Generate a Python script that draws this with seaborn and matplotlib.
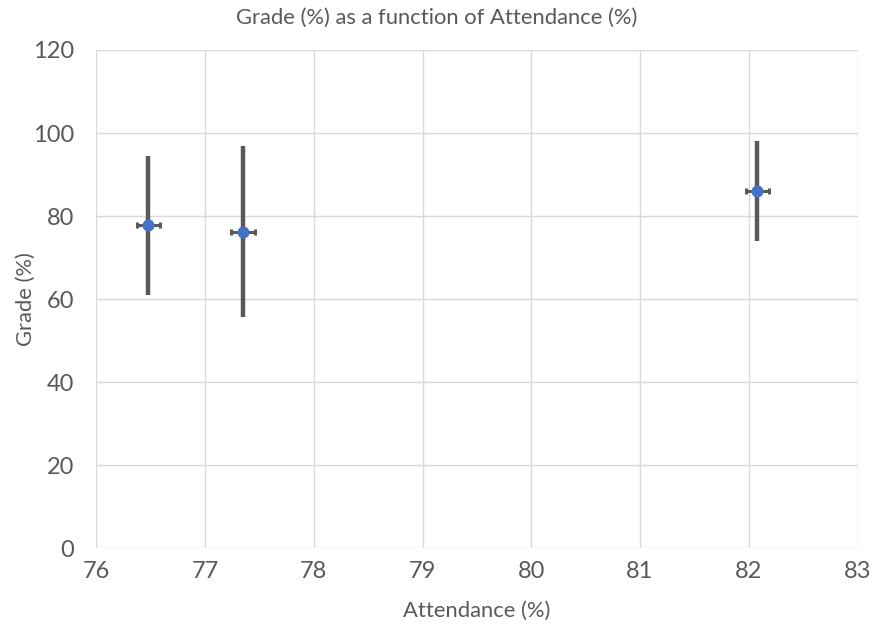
import numpy as np
import pandas as pd
import seaborn as sns
import matplotlib.pyplot as plt

# values
attendance = [76.48, 77.35, 82.08]
grade = [77.8, 76.2, 86.1]
grade_err = [16.7, 20.6, 12.1]
attendance_err = [0.11, 0.11, 0.11]

x_ticks = [76, 77, 78, 79, 80, 81, 82, 83]
y_ticks = [0, 20, 40, 60, 80, 100, 120]

df = pd.DataFrame({'Attendance': attendance, 'Grade': grade})

sns.set_style('white')
plt.rcParams['font.family'] = ['Lato', 'DejaVu Sans']
text_col = '#595959'

fig = plt.figure(figsize=(8.73, 6.24), dpi=100)
ax = fig.add_axes([0.1103, 0.1213, 0.8720, 0.7986])

# error bars first so the markers sit on top
ax.errorbar(attendance, grade, yerr=grade_err, fmt='none', ecolor='#595959',
            elinewidth=3.2, capsize=0, zorder=2)
ax.errorbar(attendance, grade, xerr=attendance_err, fmt='none', ecolor='#595959',
            elinewidth=2.2, capsize=2.5, capthick=2.2, zorder=2)
sns.scatterplot(data=df, x='Attendance', y='Grade', ax=ax, color='#4472C4',
                s=75, edgecolor='#4472C4', linewidth=0, zorder=3)

ax.set_xlim(76, 83)
ax.set_ylim(0, 120)
ax.set_xticks(x_ticks)
ax.set_yticks(y_ticks)
ax.grid(True, color='#d9d9d9', linewidth=1)
ax.set_axisbelow(True)
for s in ax.spines.values():
    s.set_visible(False)
ax.tick_params(axis='x', length=0, labelsize=17, colors=text_col, pad=9)
ax.tick_params(axis='y', length=0, labelsize=17, colors=text_col, pad=16)

ax.set_xlabel('Attendance (%)', fontsize=15.8, color=text_col, labelpad=14)
ax.set_ylabel('Grade (%)', fontsize=15.8, color=text_col, labelpad=-2)
# title is centred on the whole figure, not on the plot area
ax.set_title('Grade (%) as a function of Attendance (%)', fontsize=15.8,
             color=text_col, pad=19, x=0.447)

fig.savefig('out.png', dpi=100)
